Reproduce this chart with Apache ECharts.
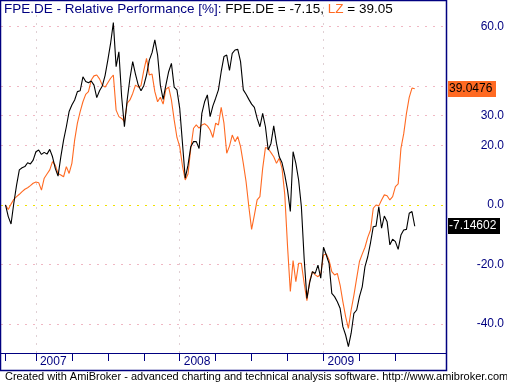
<!DOCTYPE html>
<html><head><meta charset="utf-8">
<script src="https://cdn.jsdelivr.net/npm/echarts@6/dist/echarts.min.js"></script>
<style>html,body{margin:0;padding:0;background:#fff}#c{width:507px;height:383px}</style>
</head><body><div id="c"></div>
<script>
// Weekly bars, index 0 = mid Oct 2006
const fpe = [0,-3.9,-6.4,0.6,6.7,11.8,12.5,12.9,14.2,13.8,15.1,17.9,18.5,17.0,17.7,17.1,18.7,16.2,12.3,9.7,
16.2,21.8,26.3,31.4,33.6,35.3,38.1,38.4,43.1,41.5,41.1,41.7,40.3,36.1,38.4,40.0,43.5,48.7,54.3,61.3,
46.5,51.5,36.4,26.3,35.3,42.6,48.2,44.0,40.3,38.4,40.1,43.7,48.7,51.2,55.5,50.4,40.3,35.5,40.3,44.8,
47.6,39.6,38.7,32.5,20.7,9.0,13.4,19.6,21.3,21.3,19.0,30.8,34.7,37.0,29.7,33.3,35.9,38.7,44.8,49.9,
50.4,45.2,51.0,52.1,52.3,48.2,38.7,37.2,35.5,33.9,32.8,29.1,26.3,30.8,26.3,18.5,20.7,26.6,20.7,16.2,
14.2,10.1,5.0,-2.2,17.9,14.0,8.4,-0.6,-18.0,-31.4,-26.1,-22.4,-23.0,-20.2,-24.6,-14.2,-16.8,-19.6,-29.7,-30.8,
-32.5,-34.7,-40.9,-43.7,-47.6,-43.1,-36.4,-35.3,-30.8,-27.5,-20.7,-17.4,-12.7,-7.3,-7.1,-0.6,-7.8,-3.7,-5.6,-13.4,
-11.5,-12.3,-14.9,-10.1,-8.4,-8.2,-2.8,-2.2,-7.14602];
const lz = [0,-1.5,0.3,1.9,2.8,3.6,4.5,5.3,5.8,6.5,7.3,7.7,7.5,5.0,9.0,10.4,11.8,14.6,13.4,10.6,
10.1,9.5,12.9,10.6,14.0,21.8,27.5,31.4,34.7,37.2,38.1,42.0,43.4,43.7,42.4,40.3,39.6,41.1,42.6,43.7,
31.9,29.7,29.1,28.0,34.2,35.3,37.5,40.3,39.6,40.1,45.2,49.3,43.7,44.0,38.1,34.7,36.2,33.9,38.9,39.6,
35.3,28.6,22.7,19.6,13.1,8.4,10.4,19.0,25.8,26.9,25.8,26.9,27.3,26.6,25.2,22.7,27.5,26.9,32.8,27.5,
17.4,19.8,23.5,21.3,23.0,19.6,14.0,7.8,-0.6,-8.2,-3.4,1.7,2.8,12.3,19.3,19.0,17.6,16.2,14.0,15.7,
12.3,3.4,-14.0,-29.1,-18.7,-25.8,-19.6,-19.6,-26.3,-32.2,-25.4,-22.4,-23.5,-24.1,-23.2,-16.8,-16.5,-18.5,-22.4,-23.5,
-23.0,-26.9,-32.5,-37.5,-41.5,-35.3,-30.3,-24.6,-19.0,-16.5,-14.2,-10.9,-8.4,-1.1,0,-0.3,1.7,3.4,3.1,1.7,
2.8,6.2,7.1,19.0,23.9,30.8,36.2,39.3,39.0476];
const tickIdx = [0,11,24,37,50,63,76,89,102,115,128,141];
const yearIdx = [11,63,115];
const yearLabels = ['2007','2008','2009'];
const yLabelVals = [60,30,20,0,-20,-40];
const gridVals = [60,40,30,20,-20,-40];
const names = ['FPE.DE','LZ'];

const NAVY = '#000080', ORANGE = '#FF6A22', FONT = '"Liberation Sans", Arial, sans-serif';
const chart = echarts.init(document.getElementById('c'), null, {renderer:'canvas'});
const dotted = c => ({color:c, width:1, type:[2,6]});
const TS = 13.5;
const opt = {
  animation:false,
  textStyle:{fontFamily:FONT},
  grid:{left:1, top:1, right:61, bottom:30, containLabel:false},
  xAxis:{type:'value', min:-1.63, max:159.3,
    axisLine:{show:true, onZero:false, lineStyle:{color:NAVY, width:1}},
    axisTick:{show:true, customValues:tickIdx, length:8, lineStyle:{color:NAVY}},
    axisLabel:{customValues:yearIdx, formatter:v=>yearLabels[yearIdx.indexOf(v)]||'', color:NAVY,
      fontSize:12, fontFamily:FONT, align:'left', padding:[0,0,0,4], margin:3, verticalAlign:'top'},
    splitLine:{show:false}},
  yAxis:{type:'value', position:'right', min:-49.75, max:68.57,
    axisLine:{show:false}, axisTick:{show:false}, splitLine:{show:false},
    axisLabel:{customValues:yLabelVals, formatter:v=>v.toFixed(1), color:NAVY, fontSize:12,
      fontFamily:FONT, align:'right', margin:58}},
  title:{text:'{a|FPE.DE - Relative Performance [%]: }{b|'+names[0]+' = '+fpe[fpe.length-1].toFixed(2)+', }{c|'+names[1]+'}{b| = '+lz[lz.length-1].toFixed(2)+'}',
    left:4, top:2, padding:0,
    textStyle:{fontWeight:'normal', rich:{a:{color:NAVY,fontSize:TS,fontWeight:'normal',fontFamily:FONT},b:{color:'#000',fontSize:TS,fontWeight:'normal',fontFamily:FONT},c:{color:ORANGE,fontSize:TS,fontWeight:'normal',fontFamily:FONT}}}},
  series:[
    {name:names[1], type:'line', data:lz.map((v,i)=>[i,v]), showSymbol:false, lineStyle:{color:ORANGE,width:1.1}, z:3,
     markLine:{silent:true, symbol:'none', label:{show:false}, animation:false, z:1,
       data:[...gridVals.map(v=>({yAxis:v, lineStyle:dotted('#F0B8C4')})), {yAxis:0, lineStyle:dotted('#F0E000')},
             ...yearIdx.map(v=>({xAxis:v, lineStyle:dotted('#E0D0D4')}))]}},
    {name:names[0], type:'line', data:fpe.map((v,i)=>[i,v]), showSymbol:false, lineStyle:{color:'#000',width:1.1}, z:4}
  ]
};
chart.setOption(opt);
const lastI = fpe.length-1;
const yL = chart.convertToPixel({gridIndex:0},[lastI, lz[lastI]])[1];
const yF = chart.convertToPixel({gridIndex:0},[lastI, fpe[lastI]])[1];
chart.setOption({graphic:[
  {type:'rect', shape:{x:0.5,y:0.5,width:446,height:370}, style:{fill:null, stroke:NAVY, lineWidth:1.5}, silent:true, z:10},
  {type:'rect', shape:{x:448,y:Math.round(yL)-8,width:48,height:16}, style:{fill:ORANGE}, z:11},
  {type:'text', x:449, y:Math.round(yL), style:{text:String(lz[lastI]), fill:'#000', font:'12px '+FONT, textVerticalAlign:'middle'}, z:12},
  {type:'rect', shape:{x:448,y:Math.round(yF)-8,width:52,height:16}, style:{fill:'#000'}, z:11},
  {type:'text', x:449, y:Math.round(yF), style:{text:String(fpe[lastI]), fill:'#fff', font:'12px '+FONT, textVerticalAlign:'middle'}, z:12},
  {type:'text', x:5, y:377, style:{text:'Created with AmiBroker - advanced charting and technical analysis software. http://www.amibroker.com', fill:'#000', font:'11px '+FONT, textVerticalAlign:'middle'}, z:12}
]});
</script></body></html>
